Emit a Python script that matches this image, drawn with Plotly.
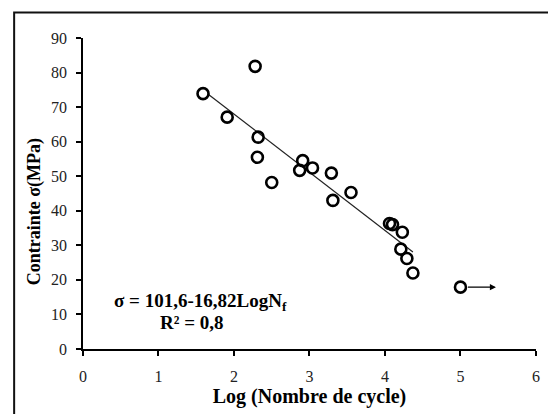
import plotly.graph_objects as go

# Data
log_cycles = [1.59, 1.91, 2.28, 2.32, 2.31, 2.50, 2.91, 2.87, 3.04, 3.29, 3.31, 3.55,
              4.06, 4.10, 4.23, 4.21, 4.29, 4.37, 5.00]
stress_mpa = [73.9, 67.1, 81.8, 61.3, 55.5, 48.2, 54.5, 51.7, 52.4, 50.9, 43.0, 45.3,
              36.3, 36.0, 33.8, 28.9, 26.2, 22.0, 17.9]

# Linear fit: sigma = a + b * LogNf
fit_intercept = 101.6
fit_slope = -16.82
fit_x = [1.65, 4.37]
fit_y = [fit_intercept + fit_slope * x for x in fit_x]

# Run-out point arrow (unbroken specimen)
runout_x = [5.08, 5.47]
runout_y = [17.9, 17.9]

x_ticks = [0, 1, 2, 3, 4, 5, 6]
y_ticks = [0, 10, 20, 30, 40, 50, 60, 70, 80, 90]

FONT = "Liberation Serif, Times New Roman, serif"

fig = go.Figure()

fig.add_trace(go.Scatter(
    x=fit_x, y=fit_y, mode="lines",
    line=dict(color="#222222", width=1.2),
    showlegend=False, hoverinfo="skip"))

fig.add_trace(go.Scatter(
    x=log_cycles, y=stress_mpa, mode="markers",
    marker=dict(symbol="circle-open", size=11, color="black",
                line=dict(color="black", width=2.6)),
    showlegend=False, cliponaxis=False))

fig.add_annotation(
    x=runout_x[1], y=runout_y[1], ax=runout_x[0], ay=runout_y[0],
    xref="x", yref="y", axref="x", ayref="y",
    showarrow=True, arrowhead=2, arrowsize=1.1, arrowwidth=1.1,
    arrowcolor="black", text="")

fig.add_annotation(
    x=0.38, y=13.7, xref="x", yref="y", xanchor="left", yanchor="middle",
    text="<b>σ = 101,6-16,82LogN<sub>f</sub></b>", showarrow=False,
    font=dict(family=FONT, size=19, color="black"))
fig.add_annotation(
    x=1.0, y=7.6, xref="x", yref="y", xanchor="left", yanchor="middle",
    text="<b>R² = 0,8</b>", showarrow=False,
    font=dict(family=FONT, size=19, color="black"))

# Y axis title (placed slightly below the plot centre, as in the reference)
fig.add_annotation(
    x=-0.108, y=0.44, xref="paper", yref="paper", xanchor="center", yanchor="middle",
    text="<b>Contrainte σ(MPa)</b>", textangle=-90, showarrow=False,
    font=dict(family=FONT, size=18, color="black"))

# Outer frame (left and top border of the figure box)
fig.add_shape(type="path", xref="paper", yref="paper",
              path="M -0.152 -0.3 L -0.152 1.082 L 1.1 1.082",
              line=dict(color="#111111", width=2))

fig.update_xaxes(
    range=[0, 6.0005], tickvals=x_ticks, ticktext=[str(v) for v in x_ticks],
    showline=True, linecolor="black", linewidth=1.6,
    ticks="outside", ticklen=5, tickwidth=1.6, tickcolor="black",
    ticklabelstandoff=7,
    showgrid=False, zeroline=False,
    tickfont=dict(family=FONT, size=16, color="#222222"),
    title=dict(text="<b>Log (Nombre de cycle)</b>", standoff=4,
               font=dict(family=FONT, size=20, color="black")))
fig.update_yaxes(
    range=[0, 90], tickvals=y_ticks, ticktext=[str(v) for v in y_ticks],
    showline=True, linecolor="black", linewidth=1.6,
    ticks="outside", ticklen=5, tickwidth=1.6, tickcolor="black",
    ticklabelstandoff=6,
    showgrid=False, zeroline=False,
    tickfont=dict(family=FONT, size=16, color="#222222"))

fig.update_layout(
    width=548, height=414,
    margin=dict(l=83, r=12, t=38, b=65, autoexpand=False),
    plot_bgcolor="white", paper_bgcolor="white")

fig.write_html("out.html", config={"displayModeBar": False},
               post_script="document.body.style.margin='0';")
